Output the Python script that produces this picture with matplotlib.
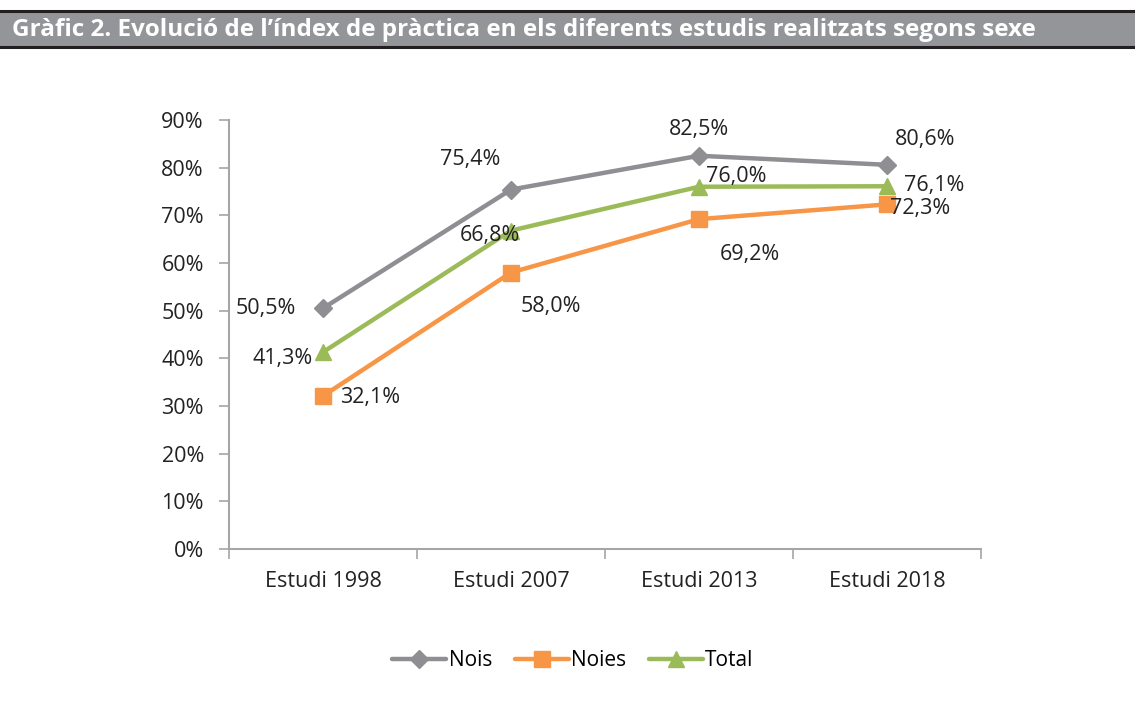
import matplotlib.pyplot as plt
from matplotlib.patches import Rectangle

plt.rcParams['font.family'] = ['Open Sans', 'DejaVu Sans']

studies = ['Estudi 1998', 'Estudi 2007', 'Estudi 2013', 'Estudi 2018']
nois = [50.5, 75.4, 82.5, 80.6]
noies = [32.1, 58.0, 69.2, 72.3]
total = [41.3, 66.8, 76.0, 76.1]
yticks = [0, 10, 20, 30, 40, 50, 60, 70, 80, 90]
title = 'Gràfic 2. Evolució de l’índex de pràctica en els diferents estudis realitzats segons sexe'

# label offsets in pixels (dx, dy)
nois_off = [(-57, 0), (-41, 30), (0, 26), (38, 25)]
noies_off = [(47, -2), (40, -34), (51, -35), (33, -4)]
total_off = [(-40, -6), (-21, -5), (37, 10), (47, 1)]

fig = plt.figure(figsize=(11.35, 7.15), dpi=100)
ax = fig.add_axes([229 / 1135, 1 - 549 / 715, 752 / 1135, 429 / 715])

x = list(range(len(studies)))
series = [
    ('Nois', nois, '#8e8e93', 'D', 9, nois_off),
    ('Noies', noies, '#f79646', 's', 11, noies_off),
    ('Total', total, '#9bbb59', '^', 11, total_off),
]
for name, vals, col, mk, ms, offs in series:
    ax.plot(x, vals, color=col, lw=3.2, marker=mk, ms=ms, label=name,
            solid_capstyle='round', solid_joinstyle='round')
    for xi, v, (dx, dy) in zip(x, vals, offs):
        ax.annotate(f'{v:.1f}%'.replace('.', ','), (xi, v), xytext=(dx, dy),
                    textcoords='offset pixels', ha='center', va='center',
                    fontsize=15.5, color='#222222')

ax.set_xlim(-0.5, 3.5)
ax.set_ylim(0, 90)
ax.set_yticks(yticks)
ax.set_yticklabels([f'{t}%' for t in yticks])
ax.set_xticks([-0.5, 0.5, 1.5, 2.5, 3.5])
ax.set_xticklabels([])
ax.set_xticks(x, minor=True)
ax.set_xticklabels(studies, minor=True)
ax.tick_params(axis='x', which='minor', length=0, pad=16, labelsize=15.5, labelcolor='#222222')
ax.tick_params(axis='x', which='major', length=7, width=1.2, color='#a6a6a6', direction='out')
ax.tick_params(axis='y', length=7, width=1.2, color='#a6a6a6', pad=11, labelsize=15.5, labelcolor='#222222')
for s in ['top', 'right']:
    ax.spines[s].set_visible(False)
for s in ['left', 'bottom']:
    ax.spines[s].set_color('#a6a6a6')
    ax.spines[s].set_linewidth(1.5)

leg = fig.legend(loc='center', bbox_to_anchor=(573 / 1135, 1 - 661 / 715), ncol=3,
                 frameon=False, fontsize=15, handlelength=2.6, columnspacing=1.1,
                 handletextpad=0.1)

# header bar
fig.patches.append(Rectangle((0, 1 - 47 / 715), 1, 37 / 715, transform=fig.transFigure,
                             facecolor='#939598', edgecolor='none'))
fig.add_artist(plt.Line2D([0, 1], [1 - 11 / 715] * 2, color='#231f20', lw=2.2))
fig.add_artist(plt.Line2D([0, 1], [1 - 47 / 715] * 2, color='#231f20', lw=2.2))
fig.text(12 / 1135, 1 - 30 / 715, title, color='white', fontsize=17.5,
         fontweight='bold', va='center', ha='left')

fig.savefig('out.png', dpi=100, facecolor='white')
